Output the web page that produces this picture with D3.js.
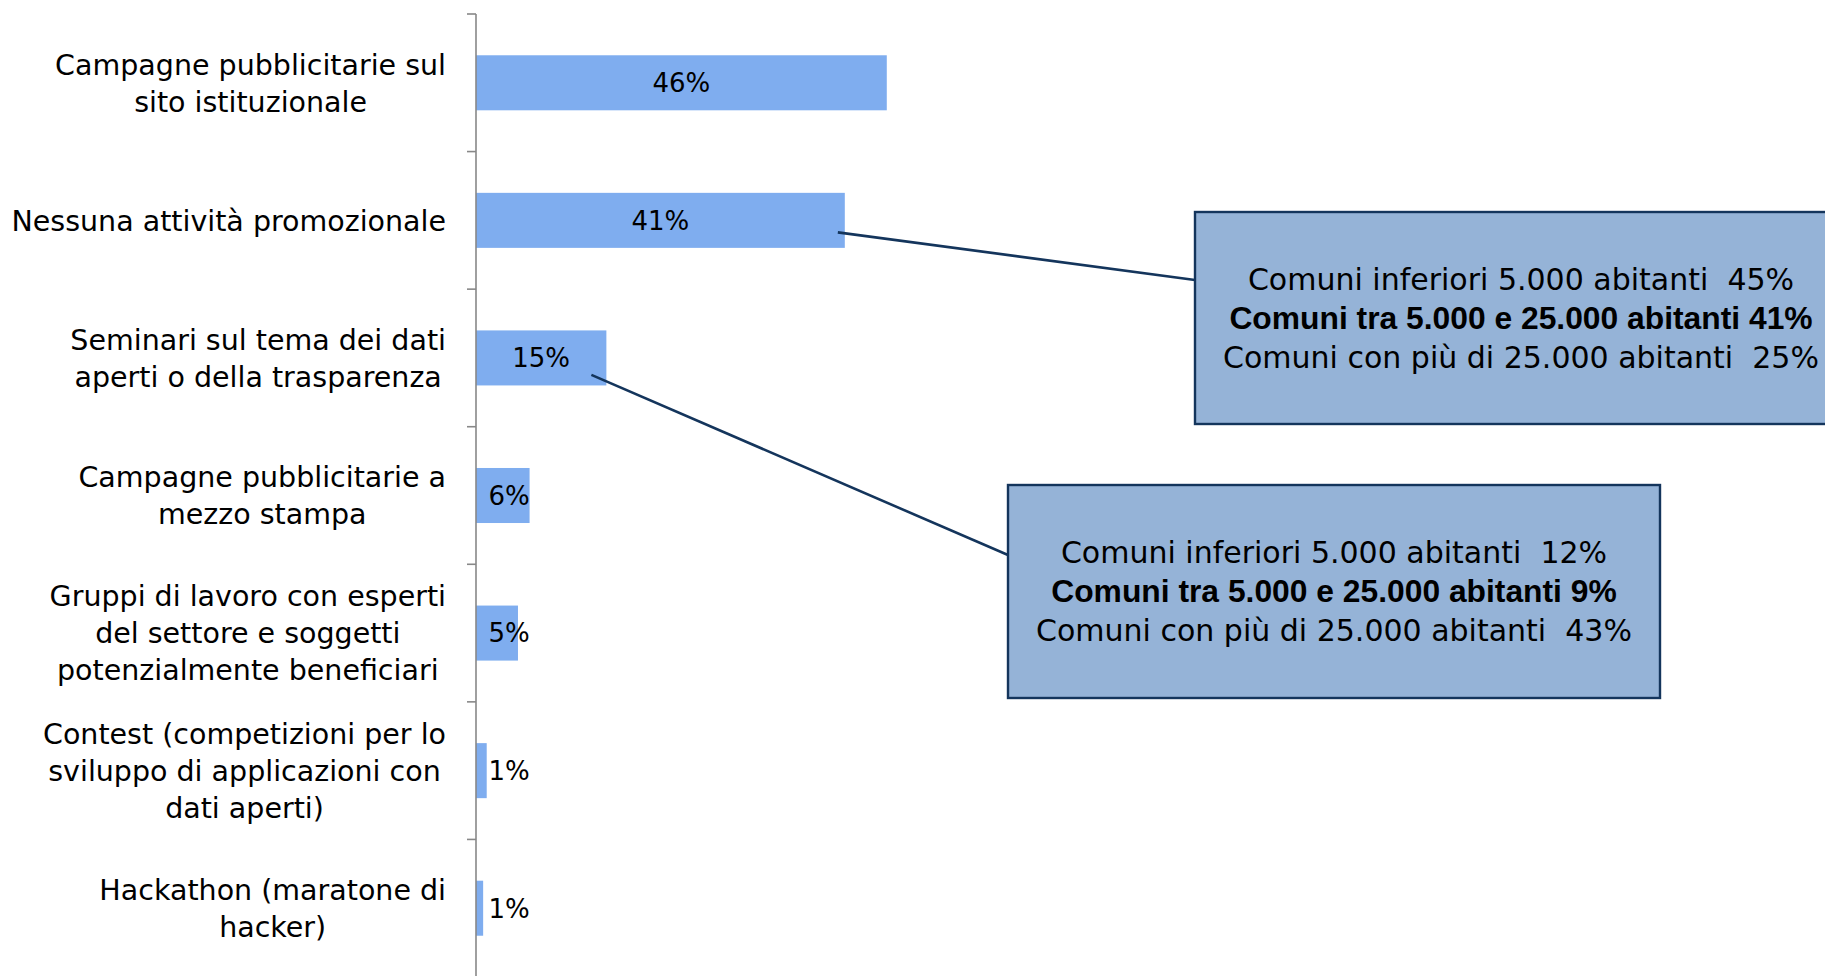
<!DOCTYPE html>
<html><head><meta charset="utf-8">
<script src="https://cdn.jsdelivr.net/npm/d3@7"></script>
<style>
html,body{margin:0;padding:0;background:#fff;}
svg{display:block;}
text{white-space:pre;}
</style></head>
<body>
<svg id="chart" width="1825" height="976"></svg>
<script>
const categories = [
  "Campagne pubblicitarie sul|sito istituzionale",
  "Nessuna attività promozionale",
  "Seminari sul tema dei dati|aperti o della trasparenza",
  "Campagne pubblicitarie a|mezzo stampa",
  "Gruppi di lavoro con esperti|del settore e soggetti|potenzialmente beneficiari",
  "Contest (competizioni per lo|sviluppo di applicazioni con|dati aperti)",
  "Hackathon (maratone di|hacker)"
];
const values = [46, 41.3, 14.6, 6, 4.7, 1.2, 0.8];
const valueLabels = ["46%", "41%", "15%", "6%", "5%", "1%", "1%"];

const callout1Lines = ["Comuni inferiori 5.000 abitanti  45%", "Comuni tra 5.000 e 25.000 abitanti 41%", "Comuni con più di 25.000 abitanti  25%"];
const callout2Lines = ["Comuni inferiori 5.000 abitanti  12%", "Comuni tra 5.000 e 25.000 abitanti 9%", "Comuni con più di 25.000 abitanti  43%"];

const svg = d3.select("#chart");
const axisX = 476;
const x = d3.scaleLinear().domain([0, 100]).range([axisX, axisX + 893]);
const y = d3.scaleBand().domain(d3.range(categories.length)).range([14, 977]).paddingInner(0.6).paddingOuter(0.3);
const step = y.step();

const barColor = "#7FADEF";
const navy = "#14355C";
const labelFont = "DejaVu Sans";

// bars
svg.append("g").selectAll("rect").data(values).join("rect")
  .attr("x", axisX).attr("y", (d,i)=>y(i))
  .attr("width", d=>x(d)-axisX).attr("height", y.bandwidth())
  .attr("fill", barColor);

// axis
const ax = svg.append("g");
ax.append("line").attr("x1", axisX).attr("x2", axisX).attr("y1", 14).attr("y2", 976)
  .attr("stroke", "#888").attr("stroke-width", 1.6);
ax.selectAll("line.tick").data(d3.range(categories.length+1)).join("line")
  .attr("class","tick")
  .attr("x1", axisX-9).attr("x2", axisX)
  .attr("y1", i=>14+i*step).attr("y2", i=>14+i*step)
  .attr("stroke", "#888").attr("stroke-width", 1.6);

// category labels
const lineH = 37;
categories.forEach((c,i)=>{
  const lines = c.split("|");
  const g = svg.append("g");
  const cy = y(i) + y.bandwidth()/2;
  const t = g.append("text").attr("font-family", labelFont).attr("font-size", 28.5).attr("fill","#000")
    .attr("text-anchor","middle");
  lines.forEach((l,k)=>{
    t.append("tspan").attr("x",0).attr("y", cy + (k-(lines.length-1)/2)*lineH).attr("dy","0.36em").text(l);
  });
  const w = t.node().getBBox().width;
  t.attr("transform", `translate(${446 - w/2},0)`);
});

// value labels
svg.append("g").selectAll("text").data(values).join("text")
  .attr("x", d=>Math.max((axisX + x(d))/2, axisX+33))
  .attr("y", (d,i)=>y(i)+y.bandwidth()/2)
  .attr("dy","0.36em")
  .attr("text-anchor","middle")
  .attr("font-family", labelFont).attr("font-size", 26).attr("fill","#000")
  .text((d,i)=>valueLabels[i]);

// callouts
function callout(bx, by, bw, bh, lines, barIdx, dyStart, sx, sy){
  const x0 = x(values[barIdx]) - sx;
  const y0 = y(barIdx) + y.bandwidth()/2 + sy;
  svg.append("line").attr("x1", x0).attr("y1", y0).attr("x2", bx).attr("y2", by+dyStart)
    .attr("stroke", navy).attr("stroke-width", 2.6);
  svg.append("rect").attr("x", bx).attr("y", by).attr("width", bw).attr("height", bh)
    .attr("fill", "#95B3D7").attr("stroke", navy).attr("stroke-width", 2.4);
  const cx = bx + bw/2;
  lines.forEach((l,k)=>{
    const bold = k===1;
    svg.append("text").attr("x", cx).attr("y", by + 67 + k*39).attr("dy","0.36em")
      .attr("text-anchor","middle")
      .attr("font-family", bold ? "Liberation Sans, Arial, sans-serif" : labelFont)
      .attr("font-weight", bold ? "bold" : "normal")
      .attr("font-size", bold ? 31.8 : 30).attr("fill","#000")
      .text(l);
  });
}
callout(1195, 212, 652, 212, callout1Lines, 1, 68, 7, 12);
callout(1008, 485, 652, 213, callout2Lines, 2, 70, 15, 17);
</script>
</body></html>
